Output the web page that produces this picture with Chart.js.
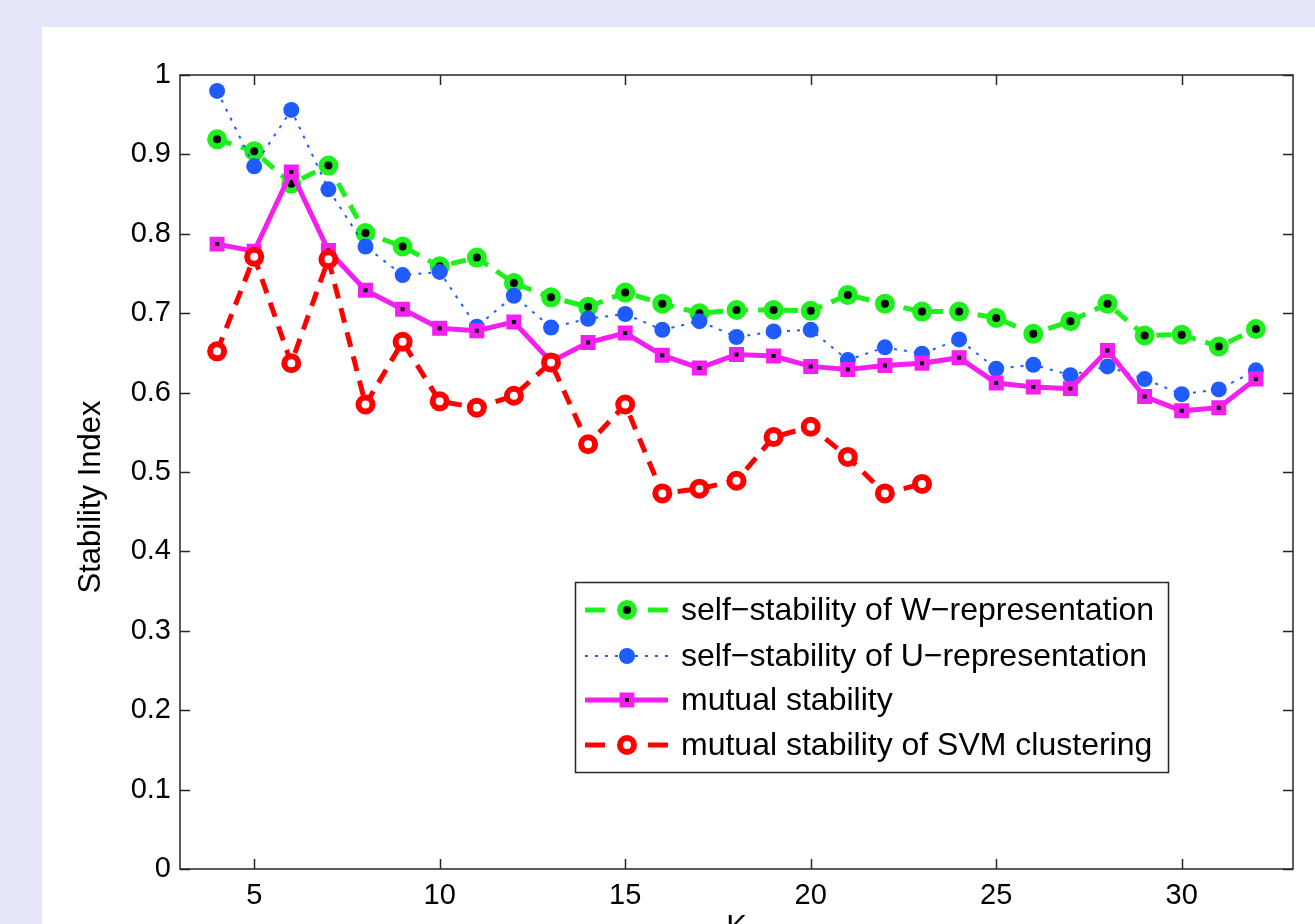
<!DOCTYPE html>
<html>
<head>
<meta charset="utf-8">
<script src="https://cdn.jsdelivr.net/npm/chart.js@4.4.0/dist/chart.umd.min.js"></script>
<style>
  html, body { margin: 0; padding: 0; overflow: hidden; background: #e6e6fa; }
  #panel { position: absolute; left: 42px; top: 27px; width: 1273px; height: 960px; background: #fff; }
  canvas { display: block; }
</style>
</head>
<body>
<div id="panel"><canvas id="stab" width="1273" height="960"></canvas></div>
<script>
// Valeurs
const kAll = [4, 5, 6, 7, 8, 9, 10, 11, 12, 13, 14, 15, 16, 17, 18, 19, 20, 21, 22, 23, 24, 25, 26, 27, 28, 29, 30, 31, 32]
const kSvm = [4, 5, 6, 7, 8, 9, 10, 11, 12, 13, 14, 15, 16, 17, 18, 19, 20, 21, 22, 23]

const selfW = [0.919, 0.904, 0.863, 0.886, 0.801, 0.784, 0.759, 0.770, 0.738, 0.720, 0.708, 0.726, 0.712, 0.700, 0.704, 0.704, 0.703, 0.723, 0.712, 0.702, 0.702, 0.694, 0.674, 0.690, 0.712, 0.672, 0.673, 0.658, 0.680]
const selfU = [0.980, 0.885, 0.956, 0.856, 0.784, 0.748, 0.752, 0.683, 0.722, 0.682, 0.693, 0.699, 0.679, 0.690, 0.670, 0.677, 0.679, 0.641, 0.657, 0.649, 0.667, 0.630, 0.635, 0.622, 0.633, 0.617, 0.598, 0.604, 0.628]
const mutual = [0.787, 0.778, 0.878, 0.779, 0.729, 0.705, 0.681, 0.678, 0.689, 0.639, 0.663, 0.675, 0.647, 0.631, 0.648, 0.646, 0.633, 0.629, 0.634, 0.637, 0.644, 0.612, 0.607, 0.605, 0.653, 0.595, 0.577, 0.581, 0.617]
const mutualSvm = [0.652, 0.771, 0.637, 0.768, 0.585, 0.664, 0.589, 0.581, 0.596, 0.638, 0.535, 0.585, 0.473, 0.479, 0.489, 0.544, 0.557, 0.519, 0.473, 0.485]

const xTicks = [5, 10, 15, 20, 25, 30]
const yTicks = [0, 0.1, 0.2, 0.3, 0.4, 0.5, 0.6, 0.7, 0.8, 0.9, 1]

const seriesLabels = [
  "self−stability of W−representation",
  "self−stability of U−representation",
  "mutual stability",
  "mutual stability of SVM clustering",
]
const yTitle = "Stability Index"

const GREEN = "#1ef01e"
const BLUE = "#1f5cff"
const MAGENTA = "#f41ef0"
const RED = "#ff0000"
const AXIS = "#262626"
const FONT = "'Liberation Sans', Arial, Helvetica, sans-serif"

function toPoints(xs, ys) {
  return ys.map((v, i) => ({ x: xs[i], y: v }))
}

// Cadre, graduations vers l'intérieur, titre Y et légende
const framePlugin = {
  id: "frame",
  afterDatasetsDraw(chart) {
    const { ctx, chartArea: a, scales } = chart
    ctx.save()
    ctx.strokeStyle = AXIS
    ctx.lineWidth = 1.5
    ctx.strokeRect(a.left, a.top, a.right - a.left, a.bottom - a.top)
    const tl = 10
    ctx.beginPath()
    xTicks.forEach((v) => {
      const px = Math.round(scales.x.getPixelForValue(v)) + 0.5
      ctx.moveTo(px, a.bottom); ctx.lineTo(px, a.bottom - tl)
      ctx.moveTo(px, a.top); ctx.lineTo(px, a.top + tl)
    })
    yTicks.forEach((v) => {
      const py = Math.round(scales.y.getPixelForValue(v)) + 0.5
      ctx.moveTo(a.left, py); ctx.lineTo(a.left + tl, py)
      ctx.moveTo(a.right, py); ctx.lineTo(a.right - tl, py)
    })
    ctx.stroke()
    ctx.restore()
  },
  afterDraw(chart) {
    const ctx = chart.ctx
    const box = { left: 533, top: 555, right: 1126, bottom: 745 }
    const rows = [583, 629, 673, 718]
    const x0 = 543, x1 = 626, xm = 585, xt = 639
    ctx.save()

    // titre de l'axe Y
    ctx.save()
    ctx.translate(49, 470)
    ctx.rotate(-Math.PI / 2)
    ctx.fillStyle = "#000"
    ctx.font = "31px " + FONT
    ctx.textAlign = "center"
    ctx.textBaseline = "middle"
    ctx.fillText(yTitle, 0, 0)
    ctx.restore()

    ctx.fillStyle = "#fff"
    ctx.fillRect(box.left, box.top, box.right - box.left, box.bottom - box.top)
    ctx.strokeStyle = AXIS
    ctx.lineWidth = 1.5
    ctx.strokeRect(box.left + 0.5, box.top + 0.5, box.right - box.left, box.bottom - box.top)

    // W : tirets + cercle vert à centre noir
    ctx.lineWidth = 5
    ctx.strokeStyle = GREEN
    ctx.beginPath()
    ctx.moveTo(x0, rows[0]); ctx.lineTo(x0 + 20, rows[0])
    ctx.moveTo(x1 - 20, rows[0]); ctx.lineTo(x1, rows[0])
    ctx.stroke()
    ctx.beginPath(); ctx.arc(xm, rows[0], 7, 0, Math.PI * 2)
    ctx.fillStyle = "#000"; ctx.fill()
    ctx.lineWidth = 6; ctx.stroke()

    // U : pointillés + disque bleu
    ctx.strokeStyle = BLUE
    ctx.lineWidth = 2
    ctx.setLineDash([3, 7])
    ctx.beginPath(); ctx.moveTo(x0, rows[1]); ctx.lineTo(x1, rows[1]); ctx.stroke()
    ctx.setLineDash([])
    ctx.beginPath(); ctx.arc(xm, rows[1], 8, 0, Math.PI * 2)
    ctx.fillStyle = BLUE; ctx.fill()

    // mutuelle : trait plein + carré
    ctx.strokeStyle = MAGENTA
    ctx.lineWidth = 5
    ctx.beginPath(); ctx.moveTo(x0, rows[2]); ctx.lineTo(x1, rows[2]); ctx.stroke()
    ctx.fillStyle = "#000"
    ctx.beginPath(); ctx.rect(xm - 4.7, rows[2] - 4.7, 9.4, 9.4); ctx.fill()
    ctx.lineWidth = 5.5; ctx.stroke()

    // SVM : tirets rouges + cercle ouvert
    ctx.strokeStyle = RED
    ctx.lineWidth = 5
    ctx.beginPath()
    ctx.moveTo(x0, rows[3]); ctx.lineTo(x0 + 20, rows[3])
    ctx.moveTo(x1 - 20, rows[3]); ctx.lineTo(x1, rows[3])
    ctx.stroke()
    ctx.beginPath(); ctx.arc(xm, rows[3], 7, 0, Math.PI * 2)
    ctx.fillStyle = "#fff"; ctx.fill()
    ctx.lineWidth = 6; ctx.stroke()

    ctx.fillStyle = "#000"
    ctx.font = "32px " + FONT
    ctx.textAlign = "left"
    ctx.textBaseline = "middle"
    seriesLabels.forEach((t, i) => ctx.fillText(t, xt, rows[i] + 1))
    ctx.restore()
  },
}

document.addEventListener("DOMContentLoaded", () => {
  const ctx = document.getElementById("stab")
  new Chart(ctx, {
    type: "line",
    data: {
      datasets: [
        {
          label: seriesLabels[0],
          data: toPoints(kAll, selfW),
          borderColor: GREEN,
          borderWidth: 5,
          borderDash: [15, 10],
          pointStyle: "circle",
          pointRadius: 7,
          pointBorderWidth: 6,
          pointBorderColor: GREEN,
          pointBackgroundColor: "#000",
          order: 4,
        },
        {
          label: seriesLabels[1],
          data: toPoints(kAll, selfU),
          borderColor: BLUE,
          borderWidth: 2,
          borderDash: [3, 7],
          pointStyle: "circle",
          pointRadius: 8,
          pointBorderWidth: 0,
          pointBorderColor: BLUE,
          pointBackgroundColor: BLUE,
          order: 3,
        },
        {
          label: seriesLabels[2],
          data: toPoints(kAll, mutual),
          borderColor: MAGENTA,
          borderWidth: 5,
          pointStyle: "rect",
          pointRadius: 6.7,
          pointBorderWidth: 5.5,
          pointBorderColor: MAGENTA,
          pointBackgroundColor: "#000",
          order: 2,
        },
        {
          label: seriesLabels[3],
          data: toPoints(kSvm, mutualSvm),
          borderColor: RED,
          borderWidth: 5,
          borderDash: [15, 10],
          pointStyle: "circle",
          pointRadius: 7,
          pointBorderWidth: 6,
          pointBorderColor: RED,
          pointBackgroundColor: "#fff",
          order: 1,
        },
      ],
    },
    options: {
      responsive: false,
      animation: false,
      layout: { padding: { left: 0, top: 48, right: 22, bottom: 0 } },
      plugins: { legend: { display: false }, tooltip: { enabled: false } },
      scales: {
        x: {
          type: "linear",
          min: 3,
          max: 33,
          grid: { display: false, drawTicks: false },
          border: { display: false },
          afterBuildTicks: (s) => { s.ticks = xTicks.map((v) => ({ value: v })) },
          afterFit: (s) => { s.height = 118 },
          ticks: { color: "#000", padding: 10, font: { family: FONT, size: 29 }, callback: (v) => String(v) },
          title: { display: true, text: "K", color: "#000", padding: 40, font: { family: FONT, size: 31 } },
        },
        y: {
          min: 0,
          max: 1,
          grid: { display: false, drawTicks: false },
          border: { display: false },
          afterBuildTicks: (s) => { s.ticks = yTicks.map((v) => ({ value: v })) },
          afterFit: (s) => { s.width = 138 },
          ticks: { color: "#000", padding: 9, font: { family: FONT, size: 29 }, callback: (v) => String(v) },
        },
      },
    },
    plugins: [framePlugin],
  })
})
</script>
</body>
</html>
